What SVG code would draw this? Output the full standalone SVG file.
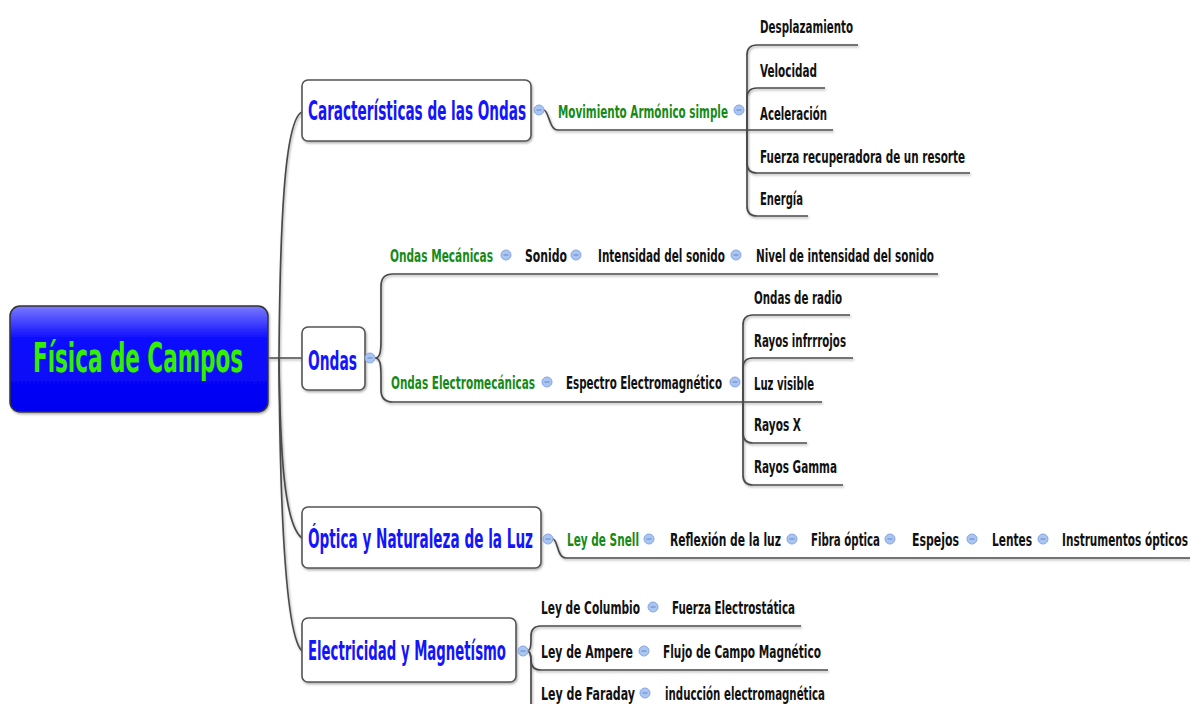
<svg xmlns="http://www.w3.org/2000/svg" width="1190" height="704" viewBox="0 0 1190 704">
<style>
text{font-family:"DejaVu Sans Condensed","DejaVu Sans","Liberation Sans",sans-serif;font-weight:bold}
.root{font-size:40px;fill:#33f000}
.sub{font-size:26px;fill:#1414ff}
.grn{font-size:18px;fill:#168a16}
.leaf{font-size:18px;fill:#111}
.box{fill:#fff;stroke:#555;stroke-width:1.6}
.con path{fill:none;stroke:#4a4a4a;stroke-width:1.7}
.ico circle{fill:#a9c5f3;stroke:#86a6e0;stroke-width:1}
.ico path{stroke:#6c86b8;stroke-width:1}
</style>
<defs>
<linearGradient id="rg" x1="0" y1="0" x2="0" y2="1">
<stop offset="0" stop-color="#7a7aff"/>
<stop offset="0.3" stop-color="#1010ff"/>
<stop offset="1" stop-color="#0000f0"/>
</linearGradient>
<filter id="sh" x="-5%" y="-5%" width="110%" height="120%">
<feDropShadow dx="1" dy="1.5" stdDeviation="0.8" flood-color="#888" flood-opacity="0.7"/>
</filter>
</defs>
<rect width="1190" height="704" fill="#fff"/>

<g class="con" filter="url(#sh)">
<path d="M268 358 L302 358"/>
<path d="M279 358 C280 230 284 120 302 112"/>
<path d="M279 358 C280 450 284 525 302 538"/>
<path d="M279 358 C280 520 286 636 302 651"/>
<path d="M544 110 C549 111 549 130 558 130 L833 130"/>
<path d="M747 130 L747 55 Q747 45 757 45 L858 45"/>
<path d="M747 130 L747 98 Q747 88 757 88 L825 88"/>
<path d="M747 130 L747 163 Q747 173 757 173 L970 173"/>
<path d="M747 130 L747 206 Q747 216 757 216 L808 216"/>
<path d="M375 358 C380 358 381 352 381 340 L381 286 Q381 274 393 274 L938 274"/>
<path d="M375 358 C380 358 381 364 381 376 L381 390 Q381 402 393 402 L822 402"/>
<path d="M743 402 L743 325 Q743 315 753 315 L850 315"/>
<path d="M743 402 L743 368 Q743 358 753 358 L853 358"/>
<path d="M743 402 L743 433 Q743 443 753 443 L807 443"/>
<path d="M743 402 L743 475 Q743 485 753 485 L843 485"/>
<path d="M553 539 C558 540 557 558 566 558 L1190 558"/>
<path d="M527 651 Q531 651 531 641 L531 636 Q531 626 541 626 L801 626"/>
<path d="M527 651 Q531 651 531 660 Q531 670 541 670 L828 670"/>
<path d="M527 651 Q531 651 531 661 L531 704"/>
</g>

<g id="root">
<rect x="10" y="306" width="258" height="106" rx="10" fill="url(#rg)" stroke="#333" stroke-width="1.5" filter="url(#sh)"/>
<text class="root" transform="translate(33 372) scale(.6 1)" textLength="350" lengthAdjust="spacingAndGlyphs">Física de Campos</text>
</g>

<g id="caracteristicas">
<rect class="box" x="302" y="80" width="229" height="61" rx="6" filter="url(#sh)"/>
<text class="sub" transform="translate(308 120) scale(.6 1)" textLength="363.3" lengthAdjust="spacingAndGlyphs">Características de las Ondas</text>
</g>
<g id="ondas">
<rect class="box" x="302" y="327" width="63" height="63" rx="6" filter="url(#sh)"/>
<text class="sub" transform="translate(308 370) scale(.6 1)" textLength="81.7" lengthAdjust="spacingAndGlyphs">Ondas</text>
</g>
<g id="optica">
<rect class="box" x="302" y="507" width="239" height="61" rx="6" filter="url(#sh)"/>
<text class="sub" transform="translate(308 548) scale(.6 1)" textLength="375" lengthAdjust="spacingAndGlyphs">Óptica y Naturaleza de la Luz</text>
</g>
<g id="electricidad">
<rect class="box" x="302" y="618" width="214" height="64" rx="6" filter="url(#sh)"/>
<text class="sub" transform="translate(308 660) scale(.6 1)" textLength="330" lengthAdjust="spacingAndGlyphs">Electricidad y Magnetísmo</text>
</g>

<g id="mas"><text class="grn" transform="translate(558 118) scale(.6 1)" textLength="283.3" lengthAdjust="spacingAndGlyphs">Movimiento Armónico simple</text></g>
<g id="desplazamiento"><text class="leaf" transform="translate(760 33) scale(.6 1)" textLength="155" lengthAdjust="spacingAndGlyphs">Desplazamiento</text></g>
<g id="velocidad"><text class="leaf" transform="translate(760 77) scale(.6 1)" textLength="95" lengthAdjust="spacingAndGlyphs">Velocidad</text></g>
<g id="aceleracion"><text class="leaf" transform="translate(760 120) scale(.6 1)" textLength="111.7" lengthAdjust="spacingAndGlyphs">Aceleración</text></g>
<g id="fuerza"><text class="leaf" transform="translate(760 163) scale(.6 1)" textLength="341.7" lengthAdjust="spacingAndGlyphs">Fuerza recuperadora de un resorte</text></g>
<g id="energia"><text class="leaf" transform="translate(760 205) scale(.6 1)" textLength="71.7" lengthAdjust="spacingAndGlyphs">Energía</text></g>

<g id="mecanicas"><text class="grn" transform="translate(390 262) scale(.6 1)" textLength="171.7" lengthAdjust="spacingAndGlyphs">Ondas Mecánicas</text></g>
<g id="sonido"><text class="leaf" transform="translate(525 262) scale(.6 1)" textLength="70" lengthAdjust="spacingAndGlyphs">Sonido</text></g>
<g id="intensidad"><text class="leaf" transform="translate(598 262) scale(.6 1)" textLength="211.7" lengthAdjust="spacingAndGlyphs">Intensidad del sonido</text></g>
<g id="nivel"><text class="leaf" transform="translate(756 262) scale(.6 1)" textLength="296.7" lengthAdjust="spacingAndGlyphs">Nivel de intensidad del sonido</text></g>

<g id="electromecanicas"><text class="grn" transform="translate(391 389) scale(.6 1)" textLength="240" lengthAdjust="spacingAndGlyphs">Ondas Electromecánicas</text></g>
<g id="espectro"><text class="leaf" transform="translate(566 389) scale(.6 1)" textLength="260" lengthAdjust="spacingAndGlyphs">Espectro Electromagnético</text></g>
<g id="radio"><text class="leaf" transform="translate(754 304) scale(.6 1)" textLength="146.7" lengthAdjust="spacingAndGlyphs">Ondas de radio</text></g>
<g id="infrarrojos"><text class="leaf" transform="translate(754 347) scale(.6 1)" textLength="153.3" lengthAdjust="spacingAndGlyphs">Rayos infrrrojos</text></g>
<g id="luzvisible"><text class="leaf" transform="translate(754 390) scale(.6 1)" textLength="100" lengthAdjust="spacingAndGlyphs">Luz visible</text></g>
<g id="rayosx"><text class="leaf" transform="translate(754 431) scale(.6 1)" textLength="78.3" lengthAdjust="spacingAndGlyphs">Rayos X</text></g>
<g id="gamma"><text class="leaf" transform="translate(754 473) scale(.6 1)" textLength="138.3" lengthAdjust="spacingAndGlyphs">Rayos Gamma</text></g>

<g id="snell"><text class="grn" transform="translate(567 546) scale(.6 1)" textLength="120" lengthAdjust="spacingAndGlyphs">Ley de Snell</text></g>
<g id="reflexion"><text class="leaf" transform="translate(670 546) scale(.6 1)" textLength="185" lengthAdjust="spacingAndGlyphs">Reflexión de la luz</text></g>
<g id="fibra"><text class="leaf" transform="translate(811 546) scale(.6 1)" textLength="115" lengthAdjust="spacingAndGlyphs">Fibra óptica</text></g>
<g id="espejos"><text class="leaf" transform="translate(912 546) scale(.6 1)" textLength="78.3" lengthAdjust="spacingAndGlyphs">Espejos</text></g>
<g id="lentes"><text class="leaf" transform="translate(992 546) scale(.6 1)" textLength="66.7" lengthAdjust="spacingAndGlyphs">Lentes</text></g>
<g id="instrumentos"><text class="leaf" transform="translate(1062 546) scale(.6 1)" textLength="210" lengthAdjust="spacingAndGlyphs">Instrumentos ópticos</text></g>

<g id="columbio"><text class="leaf" transform="translate(541 614) scale(.6 1)" textLength="165" lengthAdjust="spacingAndGlyphs">Ley de Columbio</text></g>
<g id="electrostatica"><text class="leaf" transform="translate(672 614) scale(.6 1)" textLength="205" lengthAdjust="spacingAndGlyphs">Fuerza Electrostática</text></g>
<g id="ampere"><text class="leaf" transform="translate(541 658) scale(.6 1)" textLength="153.3" lengthAdjust="spacingAndGlyphs">Ley de Ampere</text></g>
<g id="flujo"><text class="leaf" transform="translate(663 658) scale(.6 1)" textLength="263.3" lengthAdjust="spacingAndGlyphs">Flujo de Campo Magnético</text></g>
<g id="faraday"><text class="leaf" transform="translate(541 700) scale(.6 1)" textLength="156.7" lengthAdjust="spacingAndGlyphs">Ley de Faraday</text></g>
<g id="induccion"><text class="leaf" transform="translate(665 700) scale(.6 1)" textLength="266.7" lengthAdjust="spacingAndGlyphs">inducción electromagnética</text></g>

<g class="ico">
<circle cx="539" cy="110" r="5"/><path d="M536.5 110h5"/>
<circle cx="739" cy="110" r="5"/><path d="M736.5 110h5"/>
<circle cx="370" cy="358" r="5"/><path d="M367.5 358h5"/>
<circle cx="506" cy="255" r="5"/><path d="M503.5 255h5"/>
<circle cx="576" cy="255" r="5"/><path d="M573.5 255h5"/>
<circle cx="736" cy="255" r="5"/><path d="M733.5 255h5"/>
<circle cx="547" cy="382" r="5"/><path d="M544.5 382h5"/>
<circle cx="735" cy="382" r="5"/><path d="M732.5 382h5"/>
<circle cx="548" cy="539" r="5"/><path d="M545.5 539h5"/>
<circle cx="649" cy="539" r="5"/><path d="M646.5 539h5"/>
<circle cx="792" cy="539" r="5"/><path d="M789.5 539h5"/>
<circle cx="890" cy="539" r="5"/><path d="M887.5 539h5"/>
<circle cx="972" cy="539" r="5"/><path d="M969.5 539h5"/>
<circle cx="1043" cy="539" r="5"/><path d="M1040.5 539h5"/>
<circle cx="523" cy="651" r="5"/><path d="M520.5 651h5"/>
<circle cx="653" cy="607" r="5"/><path d="M650.5 607h5"/>
<circle cx="644" cy="651" r="5"/><path d="M641.5 651h5"/>
<circle cx="645" cy="693" r="5"/><path d="M642.5 693h5"/>
</g>
</svg>
